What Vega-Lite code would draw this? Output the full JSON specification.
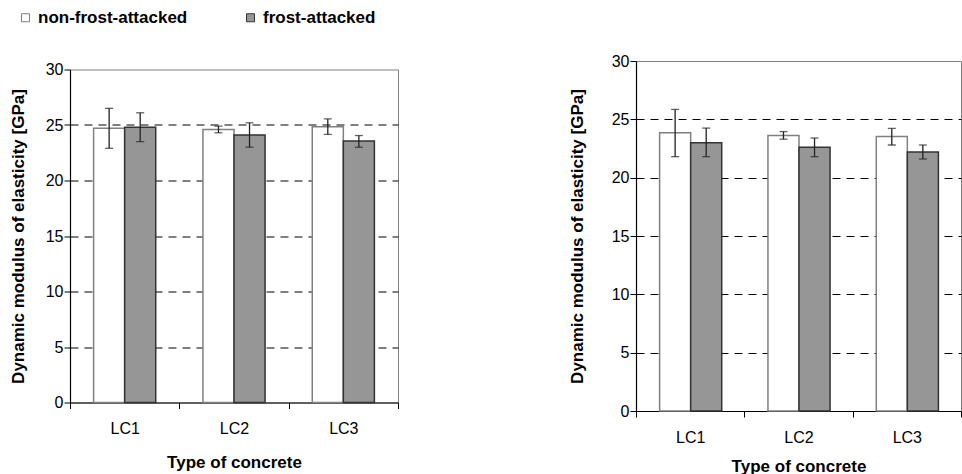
{
  "$schema": "https://vega.github.io/schema/vega-lite/v6.json",
  "background": "white",
  "padding": {"left": 8, "top": 9, "right": 2, "bottom": 0},
  "spacing": 238,
  "bounds": "flush",
  "center": true,
  "config": {
    "font": "Liberation Sans",
    "view": {"stroke": "#808080", "strokeWidth": 1},
    "axis": {
      "domainColor": "black",
      "domainWidth": 1.2,
      "tickColor": "black",
      "tickSize": 6,
      "labelColor": "black",
      "titleColor": "black",
      "labelFont": "Liberation Sans",
      "titleFont": "Liberation Sans",
      "labelFontSize": 16,
      "titleFontSize": 17,
      "titleFontWeight": "bold"
    },
    "legend": {
      "labelFont": "Liberation Sans",
      "labelFontSize": 17,
      "labelFontWeight": "bold",
      "labelColor": "black",
      "padding": 0
    }
  },
  "datasets": {
    "d": [
      {"panel": "A", "type": "LC1", "cond": "non-frost-attacked", "value": 24.7, "lo": 22.9, "hi": 26.5},
      {"panel": "A", "type": "LC1", "cond": "frost-attacked", "value": 24.8, "lo": 23.5, "hi": 26.1},
      {"panel": "A", "type": "LC2", "cond": "non-frost-attacked", "value": 24.6, "lo": 24.3, "hi": 24.9},
      {"panel": "A", "type": "LC2", "cond": "frost-attacked", "value": 24.1, "lo": 23.0, "hi": 25.2},
      {"panel": "A", "type": "LC3", "cond": "non-frost-attacked", "value": 24.85, "lo": 24.15, "hi": 25.55},
      {"panel": "A", "type": "LC3", "cond": "frost-attacked", "value": 23.55, "lo": 23.0, "hi": 24.05},
      {"panel": "B", "type": "LC1", "cond": "non-frost-attacked", "value": 23.85, "lo": 21.8, "hi": 25.85},
      {"panel": "B", "type": "LC1", "cond": "frost-attacked", "value": 23.0, "lo": 21.8, "hi": 24.25},
      {"panel": "B", "type": "LC2", "cond": "non-frost-attacked", "value": 23.62, "lo": 23.3, "hi": 23.95},
      {"panel": "B", "type": "LC2", "cond": "frost-attacked", "value": 22.6, "lo": 21.8, "hi": 23.4},
      {"panel": "B", "type": "LC3", "cond": "non-frost-attacked", "value": 23.52, "lo": 22.8, "hi": 24.22},
      {"panel": "B", "type": "LC3", "cond": "frost-attacked", "value": 22.2, "lo": 21.6, "hi": 22.8}
    ]
  },
  "hconcat": [
    {
      "width": 328,
      "height": 333,
      "data": {"name": "d"},
      "transform": [{"filter": "datum.panel == 'A'"}],
      "encoding": {
        "x": {
          "field": "type", "type": "nominal",
          "scale": {"paddingInner": 0, "paddingOuter": 0},
          "axis": {"title": "Type of concrete", "labelAngle": 0, "tickBand": "extent", "labelPadding": 12, "titlePadding": 18, "grid": false}
        },
        "xOffset": {
          "field": "cond", "type": "nominal",
          "sort": ["non-frost-attacked", "frost-attacked"],
          "scale": {"paddingOuter": 0.76, "paddingInner": 0}
        }
      },
      "layer": [
        {
          "mark": {"type": "bar", "strokeWidth": 1.5},
          "encoding": {
            "y": {
              "field": "value", "type": "quantitative",
              "scale": {"domain": [0, 30], "nice": false},
              "axis": {
                "title": "Dynamic modulus of elasticity [GPa]",
                "values": [0, 5, 10, 15, 20, 25, 30],
                "labelPadding": 1, "titlePadding": 18,
                "grid": true, "gridColor": "black", "gridDash": [8, 6], "gridWidth": 1,
                "gridOpacity": {"condition": {"test": "datum.value === 0 || datum.value === 30", "value": 0}, "value": 1}
              }
            },
            "fill": {
              "field": "cond", "type": "nominal",
              "scale": {"domain": ["non-frost-attacked", "frost-attacked"], "range": ["white", "#969696"]},
              "legend": {
                "orient": "none", "legendX": -53, "legendY": -52, "direction": "horizontal",
                "title": null, "symbolType": "square", "symbolSize": 64, "labelOffset": 4,
                "symbolStrokeColor": "#333", "symbolStrokeWidth": 1, "columnPadding": 54
              }
            },
            "stroke": {
              "field": "cond", "type": "nominal",
              "scale": {"domain": ["non-frost-attacked", "frost-attacked"], "range": ["#808080", "#333333"]},
              "legend": null
            }
          }
        },
        {
          "mark": {"type": "rule", "color": "#222", "strokeWidth": 1.3},
          "encoding": {
            "y": {"field": "lo", "type": "quantitative", "title": "Dynamic modulus of elasticity [GPa]"},
            "y2": {"field": "hi"}
          }
        },
        {
          "mark": {"type": "tick", "color": "#222", "size": 8, "thickness": 1.3, "orient": "horizontal"},
          "encoding": {"y": {"field": "lo", "type": "quantitative", "title": "Dynamic modulus of elasticity [GPa]"}}
        },
        {
          "mark": {"type": "tick", "color": "#222", "size": 8, "thickness": 1.3, "orient": "horizontal"},
          "encoding": {"y": {"field": "hi", "type": "quantitative", "title": "Dynamic modulus of elasticity [GPa]"}}
        }
      ]
    },
    {
      "width": 325,
      "height": 350,
      "data": {"name": "d"},
      "transform": [{"filter": "datum.panel == 'B'"}],
      "encoding": {
        "x": {
          "field": "type", "type": "nominal",
          "scale": {"paddingInner": 0, "paddingOuter": 0},
          "axis": {"title": "Type of concrete", "labelAngle": 0, "tickBand": "extent", "labelPadding": 12, "titlePadding": 13, "grid": false}
        },
        "xOffset": {
          "field": "cond", "type": "nominal",
          "sort": ["non-frost-attacked", "frost-attacked"],
          "scale": {"paddingOuter": 0.76, "paddingInner": 0}
        }
      },
      "layer": [
        {
          "mark": {"type": "bar", "strokeWidth": 1.5},
          "encoding": {
            "y": {
              "field": "value", "type": "quantitative",
              "scale": {"domain": [0, 30], "nice": false},
              "axis": {
                "title": "Dynamic modulus of elasticity [GPa]",
                "values": [0, 5, 10, 15, 20, 25, 30],
                "labelPadding": 1, "titlePadding": 25,
                "grid": true, "gridColor": "black", "gridDash": [8, 6], "gridWidth": 1,
                "gridOpacity": {"condition": {"test": "datum.value === 0 || datum.value === 30", "value": 0}, "value": 1}
              }
            },
            "fill": {
              "field": "cond", "type": "nominal",
              "scale": {"domain": ["non-frost-attacked", "frost-attacked"], "range": ["white", "#969696"]},
              "legend": {
                "orient": "none", "legendX": -46, "legendY": -44, "direction": "horizontal",
                "title": null, "symbolType": "square", "symbolSize": 64, "labelOffset": 4,
                "symbolStrokeColor": "#333", "symbolStrokeWidth": 1, "columnPadding": 76
              }
            },
            "stroke": {
              "field": "cond", "type": "nominal",
              "scale": {"domain": ["non-frost-attacked", "frost-attacked"], "range": ["#808080", "#333333"]},
              "legend": null
            }
          }
        },
        {
          "mark": {"type": "rule", "color": "#222", "strokeWidth": 1.3},
          "encoding": {
            "y": {"field": "lo", "type": "quantitative", "title": "Dynamic modulus of elasticity [GPa]"},
            "y2": {"field": "hi"}
          }
        },
        {
          "mark": {"type": "tick", "color": "#222", "size": 8, "thickness": 1.3, "orient": "horizontal"},
          "encoding": {"y": {"field": "lo", "type": "quantitative", "title": "Dynamic modulus of elasticity [GPa]"}}
        },
        {
          "mark": {"type": "tick", "color": "#222", "size": 8, "thickness": 1.3, "orient": "horizontal"},
          "encoding": {"y": {"field": "hi", "type": "quantitative", "title": "Dynamic modulus of elasticity [GPa]"}}
        }
      ]
    }
  ]
}
